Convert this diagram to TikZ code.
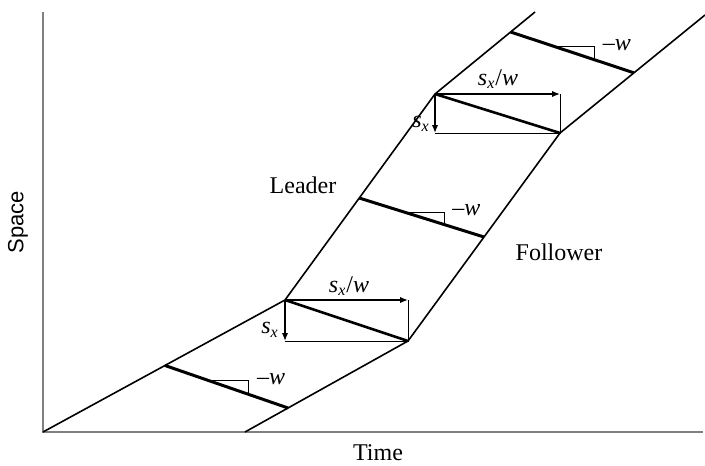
\documentclass[tikz,border=0pt]{standalone}
\usepackage{fontspec}
\setmainfont{Liberation Serif}
\newfontfamily\spacefont{Liberation Sans}
\usepackage{tikz}
\usetikzlibrary{arrows.meta,calc,positioning}
\newcommand{\sxw}{\textit{s}\textsubscript{\textit{x}}/\textit{w}}
\newcommand{\sx}{\textit{s}\textsubscript{\textit{x}}}
\newcommand{\mw}{\textendash\textit{w}}

\begin{document}
\begin{tikzpicture}[x=0.5pt,y=-0.5pt,
  axis/.style={line width=1pt,draw=gray},
  traj/.style={line width=0.8pt,black},
  wave/.style={line width=1.5pt,black},
  thinline/.style={line width=0.45pt,black},
  arr/.style={-{Latex[length=4pt,width=3.2pt]},line width=0.7pt},
  lbl/.style={font=\fontsize{12}{14}\selectfont,inner sep=1pt},
  mlbl/.style={font=\fontsize{12}{14}\selectfont,inner sep=1pt}
]
\useasboundingbox (0,0) rectangle (705,465);
% Axes
\coordinate (origin) at (43,432);
\coordinate (ytop) at (43,12);
\coordinate (xend) at (703,432);
\draw[axis] (ytop) -- (origin) -- (xend);
\node[lbl,rotate=90,font=\spacefont\fontsize{11}{13}\selectfont] (space) at (18,222) {Space};
\node[lbl] (time) at (378,453) {Time};
% Leader trajectory
\coordinate (L0) at (43,432);
\coordinate (L1) at (285,300);
\coordinate (L2) at (435,94);
\coordinate (L3) at (535,12);
\draw[traj] (L0) -- (L1) -- (L2) -- (L3);
% Follower trajectory
\coordinate (F0) at (245,432);
\coordinate (F1) at (408,341);
\coordinate (F2) at (560,133);
\coordinate (F3) at (705,15);
\draw[traj] (F0) -- (F1) -- (F2) -- (F3);
\node[lbl] (leader) at (303,185) {Leader};
\node[lbl] (follower) at (559,252) {Follower};
% Backward waves
\coordinate (W1a) at ($(L0)!0.504!(L1)$);
\coordinate (W1b) at ($(F0)!0.264!(F1)$);
\coordinate (W2a) at ($(L1)!0.495!(L2)$);
\coordinate (W2b) at ($(F1)!0.5!(F2)$);
\coordinate (W3a) at ($(L2)!0.756!(L3)$);
\coordinate (W3b) at ($(F2)!0.51!(F3)$);
\foreach \a/\b/\n in {W1a/W1b/wa,W2a/W2b/wb,W3a/W3b/wc}{
  \draw[wave] (\a) -- (\b);
  \coordinate (\n s) at ($(\a)!0.36!(\b)$);
  \coordinate (\n e) at ($(\a)!0.68!(\b)$);
  \draw[thinline] (\n s) -| (\n e);
  \node[mlbl,anchor=west] (\n) at ($(\n s -| \n e)+(6,-2)$) {\mw};
}
% Headway boxes
\foreach \p/\q/\n in {L1/F1/lo,L2/F2/hi}{
  \coordinate (\n r) at (\p -| \q);
  \coordinate (\n d) at (\p |- \q);
  \draw[thinline] (\n r) -- (\q) -- (\n d);
  \draw[arr] (\p) -- (\n r);
  \draw[arr] (\p) -- (\n d);
  \draw[wave,line width=1.3pt] (\p) -- (\q);
}
\node[mlbl] (sxwlo) at (349,286) {\sxw};
\node[mlbl] (sxlo) at (270,330) {\sx};
\node[mlbl] (sxwhi) at (498,79) {\sxw};
\node[mlbl] (sxhi) at (421,124) {\sx};
\end{tikzpicture}
\end{document}
